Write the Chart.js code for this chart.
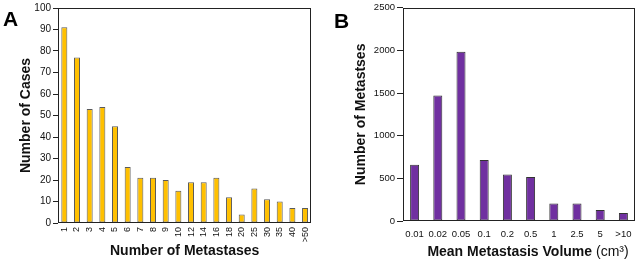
<!DOCTYPE html>
<html>
<head>
<meta charset="utf-8">
<script src="https://cdn.jsdelivr.net/npm/chart.js@4/dist/chart.umd.min.js"></script>
<style>
  html, body { margin:0; padding:0; background:#fff; }
  #wrap { position:relative; width:640px; height:260px; overflow:hidden; }
  .panel { position:absolute; top:0; width:320px; height:260px; }
  .letter { position:absolute; font-family:"Liberation Sans", Arial, sans-serif; font-weight:bold; font-size:21px; line-height:21px; color:#000; }
</style>
</head>
<body>
<div id="wrap">
  <div class="panel" style="left:0"><canvas id="cA" width="320" height="260"></canvas></div>
  <div class="panel" style="left:320px"><canvas id="cB" width="320" height="260"></canvas></div>
  <div class="letter" style="left:3px; top:8px;">A</div>
  <div class="letter" style="left:334px; top:10px;">B</div>
</div>
<script>
// ---- Data ----
const metastasisCounts = ['1','2','3','4','5','6','7','8','9','10','12','14','16','18','20','25','30','35','40','>50'];
const numberOfCases = [91,77,53,54,45,26,21,21,20,15,19,19,21,12,4,16,11,10,7,7];
const volumeBins = ['0.01','0.02','0.05','0.1','0.2','0.5','1','2.5','5','>10'];
const numberOfMetastases = [660,1470,1985,715,545,515,205,205,130,95];
const yTicksA = { min:0, max:100, step:10 };
const yTicksB = { min:0, max:2500, step:500 };

const FAMILY = '"Liberation Sans", Arial, sans-serif';
Chart.defaults.font.family = FAMILY;
Chart.defaults.color = '#111';

const framePlugin = {
  id: 'frame',
  afterDraw(chart) {
    const { ctx, chartArea: a } = chart;
    ctx.save();
    ctx.strokeStyle = '#222';
    ctx.lineWidth = 1;
    const l = Math.round(a.left) + 0.5, t = Math.round(a.top) + 0.5;
    const r = Math.round(a.right) - 0.5, b = Math.round(a.bottom) - 0.5;
    ctx.strokeRect(l, t, r - l, b - t);
    ctx.restore();
  }
};

const volTitlePlugin = {
  id: 'volTitle',
  afterDraw(chart) {
    const { ctx, chartArea: a } = chart;
    const p1 = 'Mean Metastasis Volume ';
    const p2 = '(cm\u00B3)';
    ctx.save();
    ctx.fillStyle = '#111';
    ctx.textBaseline = 'middle';
    ctx.font = 'bold 14px ' + FAMILY;
    const w1 = ctx.measureText(p1).width;
    ctx.font = '14px ' + FAMILY;
    const w2 = ctx.measureText(p2).width;
    const cx = (a.left + a.right) / 2 + 9;
    const x0 = cx - (w1 + w2) / 2;
    const y = 252;
    ctx.font = 'bold 14px ' + FAMILY;
    ctx.textAlign = 'left';
    ctx.fillText(p1, x0, y);
    ctx.font = '14px ' + FAMILY;
    ctx.fillText(p2, x0 + w1, y);
    ctx.restore();
  }
};

const plainNum = v => String(v);

new Chart(document.getElementById('cA'), {
  type: 'bar',
  data: {
    labels: metastasisCounts,
    datasets: [{
      data: numberOfCases,
      backgroundColor: '#FFC000',
      borderColor: '#5a5a5a',
      borderWidth: 1,
      borderSkipped: false,
      inflateAmount: 0,
      barThickness: 6,
      categoryPercentage: 1.0
    }]
  },
  options: {
    responsive: false,
    animation: false,
    layout: { padding: { top: 5, right: 6, left: 0, bottom: 0 } },
    plugins: { legend: { display: false }, tooltip: { enabled: false } },
    scales: {
      x: {
        grid: { display: false, drawTicks: false },
        border: { display: false },
        ticks: { autoSkip: false, maxRotation: 90, minRotation: 90, padding: 4, font: { size: 9 } },
        title: { display: true, text: 'Number of Metastases', font: { size: 14, weight: 'bold' }, padding: { top: 0, bottom: 0 } },
        afterFit: s => { s.height = 37; }
      },
      y: {
        min: yTicksA.min, max: yTicksA.max,
        ticks: { stepSize: yTicksA.step, padding: 2, font: { size: 10 }, callback: plainNum },
        grid: { drawOnChartArea: false, drawTicks: true, tickLength: 5, color: '#222' },
        border: { display: false },
        title: { display: true, text: 'Number of Cases', font: { size: 14, weight: 'bold' }, padding: { top: 18, bottom: 0 } },
        afterFit: s => { s.width = 58; }
      }
    }
  },
  plugins: [framePlugin]
});

new Chart(document.getElementById('cB'), {
  type: 'bar',
  data: {
    labels: volumeBins,
    datasets: [{
      data: numberOfMetastases,
      backgroundColor: '#7030A0',
      borderColor: '#333333',
      borderWidth: 1,
      borderSkipped: false,
      inflateAmount: 0,
      barThickness: 9,
      categoryPercentage: 1.0
    }]
  },
  options: {
    responsive: false,
    animation: false,
    layout: { padding: { top: 7, right: 5, left: 0, bottom: 0 } },
    plugins: { legend: { display: false }, tooltip: { enabled: false } },
    scales: {
      x: {
        grid: { display: false, drawTicks: false },
        border: { display: false },
        ticks: { autoSkip: false, maxRotation: 0, minRotation: 0, padding: 8, font: { size: 9.5 } },
        title: { display: false },
        afterFit: s => { s.height = 39; }
      },
      y: {
        min: yTicksB.min, max: yTicksB.max,
        ticks: { stepSize: yTicksB.step, padding: 2, font: { size: 9.5 }, callback: plainNum },
        grid: { drawOnChartArea: false, drawTicks: true, tickLength: 6, color: '#222' },
        border: { display: false },
        title: { display: true, text: 'Number of Metastses', font: { size: 14, weight: 'bold' }, padding: { top: 33, bottom: 0 } },
        afterFit: s => { s.width = 83; }
      }
    }
  },
  plugins: [framePlugin, volTitlePlugin]
});
</script>
</body>
</html>
